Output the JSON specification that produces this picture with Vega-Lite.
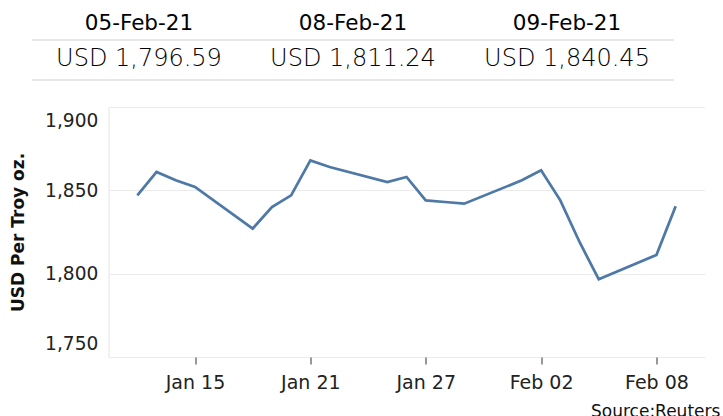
{
  "$schema": "https://vega.github.io/schema/vega-lite/v6.json",
  "padding": {"left": 8.5, "top": 0, "right": 0, "bottom": 0},
  "background": "white",
  "config": {"view": {"stroke": null}, "font": "DejaVu Sans"},
  "spacing": 26,
  "resolve": {"scale": {"x": "independent", "y": "independent"}},
  "vconcat": [
    {
      "width": 596,
      "height": 80,
      "data": {"values": [
        {"col": 0, "date": "05-Feb-21", "price": "USD 1,796.59"},
        {"col": 1, "date": "08-Feb-21", "price": "USD 1,811.24"},
        {"col": 2, "date": "09-Feb-21", "price": "USD 1,840.45"}
      ]},
      "layer": [
        {
          "data": {"values": [
            {"x0": -0.5, "x1": 2.5, "r": 0.5},
            {"x0": -0.5, "x1": 2.5, "r": 1.5}
          ]},
          "mark": {"type": "rule", "color": "#cfcfcf", "strokeWidth": 1.2},
          "encoding": {
            "x": {"field": "x0", "type": "quantitative", "scale": {"domain": [-0.1425, 2.6425], "nice": false, "zero": false}, "axis": null},
            "x2": {"field": "x1"},
            "y": {"field": "r", "type": "quantitative", "scale": {"domain": [-0.5, 1.5], "reverse": true, "nice": false, "zero": false}, "axis": null}
          }
        },
        {
          "mark": {"type": "text", "fontSize": 21.5, "color": "#000000", "dy": 4},
          "encoding": {
            "x": {"field": "col", "type": "quantitative"},
            "y": {"datum": 0, "type": "quantitative"},
            "text": {"field": "date"}
          }
        },
        {
          "mark": {"type": "text", "fontSize": 24, "fontWeight": 200, "color": "#000000", "dy": -1},
          "encoding": {
            "x": {"field": "col", "type": "quantitative"},
            "y": {"datum": 1, "type": "quantitative"},
            "text": {"field": "price"}
          }
        }
      ]
    },
    {
      "width": 596,
      "height": 250,
      "data": {"values": [
        {"date": "2021-01-12", "price": 1847},
        {"date": "2021-01-13", "price": 1861},
        {"date": "2021-01-14", "price": 1856},
        {"date": "2021-01-15", "price": 1852},
        {"date": "2021-01-18", "price": 1827},
        {"date": "2021-01-19", "price": 1840},
        {"date": "2021-01-20", "price": 1847},
        {"date": "2021-01-21", "price": 1868},
        {"date": "2021-01-22", "price": 1864},
        {"date": "2021-01-25", "price": 1855},
        {"date": "2021-01-26", "price": 1858},
        {"date": "2021-01-27", "price": 1844},
        {"date": "2021-01-28", "price": 1843},
        {"date": "2021-01-29", "price": 1842},
        {"date": "2021-02-01", "price": 1856},
        {"date": "2021-02-02", "price": 1862},
        {"date": "2021-02-03", "price": 1844},
        {"date": "2021-02-04", "price": 1819},
        {"date": "2021-02-05", "price": 1796.59},
        {"date": "2021-02-08", "price": 1811.24},
        {"date": "2021-02-09", "price": 1840.45}
      ]},
      "mark": {"type": "line", "color": "#4e79a7", "strokeWidth": 2.75},
      "encoding": {
        "x": {
          "field": "date",
          "type": "temporal",
          "scale": {"type": "utc", "domain": [
            {"year": 2021, "month": 1, "date": 10, "hours": 12, "utc": true},
            {"year": 2021, "month": 2, "date": 10, "hours": 12, "utc": true}
          ]},
          "axis": {
            "values": [
              {"year": 2021, "month": 1, "date": 15, "utc": true},
              {"year": 2021, "month": 1, "date": 21, "utc": true},
              {"year": 2021, "month": 1, "date": 27, "utc": true},
              {"year": 2021, "month": 2, "date": 2, "utc": true},
              {"year": 2021, "month": 2, "date": 8, "utc": true}
            ],
            "format": "%b %d",
            "grid": false,
            "domain": false,
            "ticks": true,
            "tickSize": 7,
            "tickColor": "#333333",
            "labelFontSize": 19,
            "labelColor": "#222222",
            "labelPadding": 9,
            "labelFlush": false,
            "title": "Source:Reuters",
            "titleFontSize": 17,
            "titleFontWeight": "normal",
            "titleColor": "#111111",
            "titleAlign": "left",
            "titleAnchor": "start",
            "titleX": 482,
            "titlePadding": 11
          }
        },
        "y": {
          "field": "price",
          "type": "quantitative",
          "scale": {"domain": [1750, 1900], "nice": false, "zero": false},
          "axis": {
            "values": [1750, 1800, 1850, 1900],
            "format": ",.0f",
            "grid": true,
            "gridColor": "#ebebeb",
            "domain": true,
            "domainColor": "#e4e4e4",
            "ticks": false,
            "labelFontSize": 18.6,
            "labelColor": "#222222",
            "labelPadding": 10.7,
            "labelFlush": true,
            "labelFlushOffset": -4,
            "title": "USD Per Troy oz.",
            "titleFontSize": 17,
            "titleFontWeight": "bold",
            "titleColor": "#111111",
            "titlePadding": 17.5
          }
        }
      }
    }
  ]
}
